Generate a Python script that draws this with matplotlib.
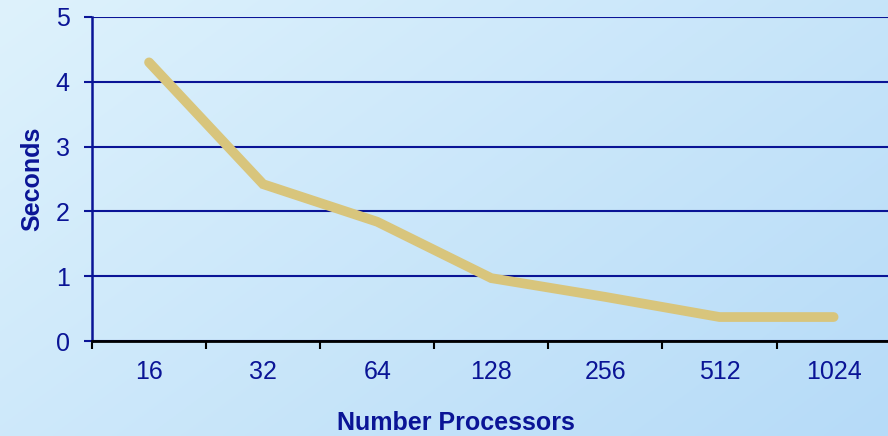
import numpy as np
import matplotlib
matplotlib.use("Agg")
import matplotlib.pyplot as plt

processors = ["16", "32", "64", "128", "256", "512", "1024"]
seconds = [4.3, 2.42, 1.84, 0.97, 0.68, 0.37, 0.37]
yticks = [0, 1, 2, 3, 4, 5]

navy = "#0A1496"
plt.rcParams['font.family'] = ['Liberation Sans', 'DejaVu Sans']

fig = plt.figure(figsize=(8.88, 4.36), dpi=100)

# background gradient
bg = fig.add_axes([0, 0, 1, 1], zorder=-10)
h, w = 200, 400
yy, xx = np.mgrid[0:1:h*1j, 0:1:w*1j]
t = (xx * 0.6 + yy * 0.4)
c0 = np.array([0xDE, 0xF2, 0xFC]) / 255.0
c1 = np.array([0xB6, 0xDB, 0xF8]) / 255.0
img = c0[None, None, :] * (1 - t[..., None]) + c1[None, None, :] * t[..., None]
bg.imshow(img, aspect='auto', extent=[0, 1, 0, 1], origin='upper')
bg.axis('off')

ax = fig.add_axes([92/888, 95/436, 1 - 92/888 + 0.003, (341-17)/436])
ax.patch.set_alpha(0)
x = np.arange(len(processors))
ax.plot(x, seconds, color="#D8C57C", lw=7, solid_capstyle='round', solid_joinstyle='miter', zorder=3)

ax.set_xlim(-0.5, len(processors) - 0.5)
ax.set_ylim(0, 5)
ax.set_yticks(yticks)
ax.set_yticklabels([str(v) for v in yticks], fontsize=18, color=navy)
ax.set_xticks(x)
ax.set_xticklabels(processors, fontsize=18, color=navy)
ax.set_xticks(np.arange(-0.5, len(processors), 1), minor=True)
ax.tick_params(axis='x', which='major', length=0, pad=14)
ax.tick_params(axis='x', which='minor', length=6, width=1.5, color='black', direction='out')
ax.tick_params(axis='y', length=6, width=1.5, color=navy, pad=10)

ax.grid(axis='y', color=navy, lw=1.5, zorder=1)
ax.set_axisbelow(True)
for s in ['top', 'right']:
    ax.spines[s].set_visible(False)
ax.spines['left'].set_color(navy)
ax.spines['left'].set_linewidth(1.8)
ax.spines['bottom'].set_color('black')
ax.spines['bottom'].set_linewidth(2)

ax.set_ylabel("Seconds", fontsize=18, fontweight='bold', color=navy, labelpad=8)
fig.text(456/888, 1 - 423/436, "Number Processors", fontsize=18, fontweight='bold',
         color=navy, ha='center', va='center')

fig.savefig("out.png", dpi=100)
